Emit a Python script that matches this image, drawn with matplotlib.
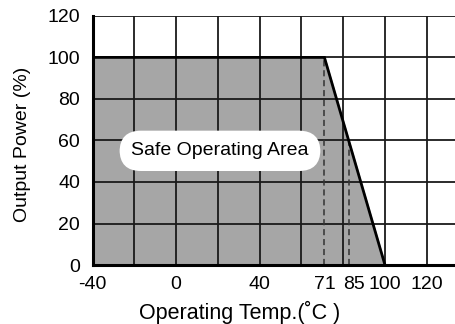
import matplotlib.pyplot as plt

plt.rcParams['font.family'] = ['Liberation Sans', 'DejaVu Sans']

# derating curve: temperature (C) vs output power (%)
temp = [-40, 71, 100]
power = [100, 100, 0]

xticks = [-40, 0, 40, 71, 85, 100, 120]
yticks = [0, 20, 40, 60, 80, 100, 120]
grid_x = [-20, 0, 20, 40, 60, 80, 100, 120]
grid_y = [20, 40, 60, 80, 100, 120]
dash_x = [71, 83]

fig = plt.figure(figsize=(4.56, 3.24), dpi=100)
ax = fig.add_axes([0.203, 0.182, 0.797, 0.769])
ax.set_xlim(-40, 134)
ax.set_ylim(0, 120)

ax.fill_between(temp, power, 0, color='#a6a6a6', zorder=1)

for gx in grid_x:
    ax.axvline(gx, color='#1a1a1a', lw=1.3, zorder=2)
for gy in grid_y:
    ax.axhline(gy, color='#1a1a1a', lw=1.3, zorder=2)

# dashed markers down from the curve
for dx in dash_x:
    top = 100 if dx <= 71 else 100 * (100 - dx) / 29
    ax.plot([dx, dx], [0, top], color='#333333', lw=1.1, ls=(0, (4, 2.5)), zorder=3)

ax.plot(temp, power, color='black', lw=2.0, zorder=4, solid_joinstyle='miter')

for s in ['top', 'right']:
    ax.spines[s].set_visible(False)
ax.spines['left'].set_linewidth(2.2)
ax.spines['bottom'].set_linewidth(2.2)
ax.spines['left'].set_zorder(5)
ax.spines['bottom'].set_zorder(5)

ax.set_xticks(xticks)
ax.set_xticklabels([str(t) for t in xticks])
ax.set_yticks(yticks)
ax.tick_params(length=0, labelsize=14)
ax.tick_params(axis='y', pad=9)
ax.tick_params(axis='x', pad=8)

ax.text(21, 55, 'Safe Operating Area', fontsize=14, ha='center', va='center', zorder=6,
        bbox=dict(boxstyle='round,pad=0.6,rounding_size=1.1', fc='white', ec='none'))

fig.text(0.05, 0.555, 'Output Power (%)', rotation=90, fontsize=14, ha='center', va='center')
fig.text(0.525, 0.035, 'Operating Temp.(\u02daC )', fontsize=15.5, ha='center', va='center')

fig.savefig('out.png', dpi=100)
